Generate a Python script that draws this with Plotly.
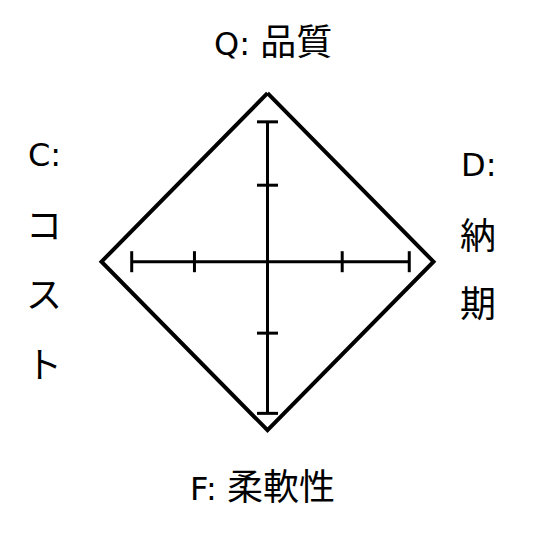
import plotly.graph_objects as go

# Axes of the QCDF diamond (value along each direction)
axis_names = ["Q", "D", "F", "C"]
diamond_value = [5, 5, 5, 5]           # outer diamond vertex for Q (up), D (right), F (down), C (left)
cross_extent = [4.15, 4.27, 4.5, 4.09]  # end of the inner cross arms
tick_values = [2.27, 2.25, 2.12, 2.2]   # inner tick along each arm

label_top = ("Q: ", "品質")
label_bottom = ("F: ", "柔軟性")
label_left = ["C:", "コ", "ス", "ト"]
label_right = ["D:", "納", "期"]

dirs = {"Q": (0, 1), "D": (1, 0), "F": (0, -1), "C": (-1, 0)}

def pt(name, v):
    dx, dy = dirs[name]
    return dx * v, dy * v

fig = go.Figure()

# outer diamond
dx_ = []
dy_ = []
for n, v in zip(axis_names + axis_names[:1], diamond_value + diamond_value[:1]):
    x, y = pt(n, v)
    dx_.append(x)
    dy_.append(y)
fig.add_trace(go.Scatter(x=dx_, y=dy_, mode="lines",
                         line=dict(color="black", width=4),
                         hoverinfo="skip", cliponaxis=False))

# inner cross
for a, b in [("Q", "F"), ("C", "D")]:
    xa, ya = pt(a, cross_extent[axis_names.index(a)])
    xb, yb = pt(b, cross_extent[axis_names.index(b)])
    fig.add_trace(go.Scatter(x=[xa, xb], y=[ya, yb], mode="lines",
                             line=dict(color="black", width=3),
                             hoverinfo="skip"))

# ticks
for n in axis_names:
    i = axis_names.index(n)
    xs, ys = [], []
    for v in (tick_values[i], cross_extent[i]):
        x, y = pt(n, v)
        xs.append(x)
        ys.append(y)
    sym = "line-ew" if n in ("Q", "F") else "line-ns"
    fig.add_trace(go.Scatter(x=xs, y=ys, mode="markers",
                             marker=dict(symbol=sym, size=15,
                                         line=dict(color="black", width=3)),
                             hoverinfo="skip"))

CJK_SIZE = 36
LATIN_SIZE = 32
font = dict(family="DejaVu Sans, Noto Sans CJK JP", size=CJK_SIZE, color="black")
W, H = 542, 543
OFF = 8  # page offset of the plot inside the browser window

def latin(t):
    return f"<span style='font-size:{LATIN_SIZE}px'>{t}</span>"

def ann(text, px, py):
    return dict(text=text, x=(px - OFF) / W, y=1 - (py - OFF) / H,
                xref="paper", yref="paper",
                showarrow=False, font=font, xanchor="center", yanchor="middle")

anns = [ann(latin(label_top[0]) + label_top[1], 273, 42),
        ann(latin(label_bottom[0]) + label_bottom[1], 262, 487)]
for t, py in zip(label_left, [155, 226, 295, 365]):
    anns.append(ann(latin(t) if t.endswith(":") else t, 44, py))
for t, py in zip(label_right, [165, 236, 304]):
    anns.append(ann(latin(t) if t.endswith(":") else t, 478, py))

ux = 33.2
uy = 33.7
cx, cy = 267.5 - OFF, 261.7 - OFF
fig.update_layout(
    width=W, height=H,
    margin=dict(l=0, r=0, t=0, b=0),
    paper_bgcolor="white", plot_bgcolor="white",
    showlegend=False,
    xaxis=dict(range=[-cx / ux, (W - cx) / ux], visible=False, fixedrange=True),
    yaxis=dict(range=[-(H - cy) / uy, cy / uy], visible=False, fixedrange=True),
    annotations=anns,
)

fig.write_html("out.html")
